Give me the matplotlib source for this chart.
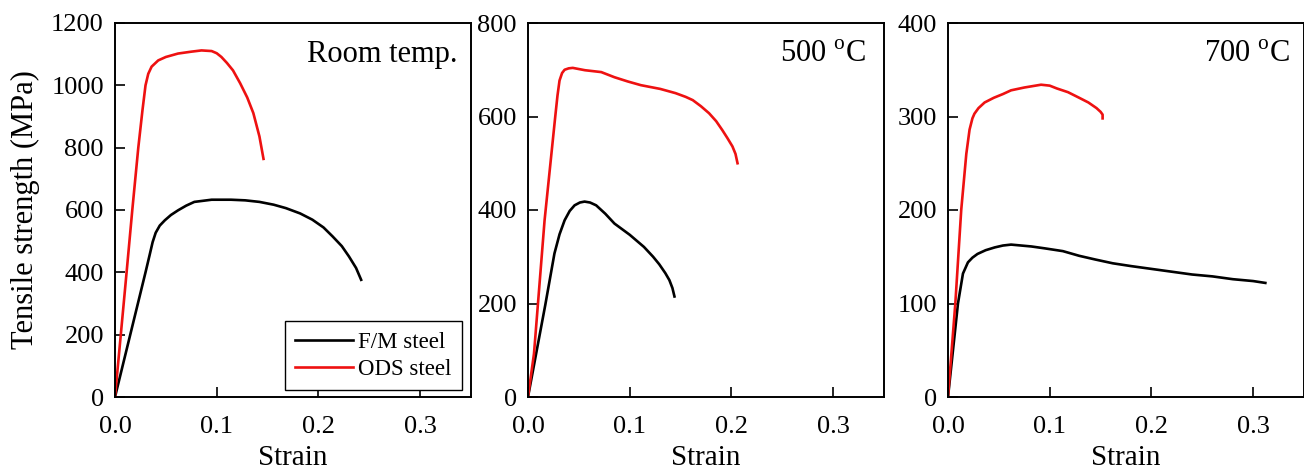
import matplotlib
matplotlib.use("Agg")
import matplotlib.pyplot as plt

plt.rcParams["font.family"] = ["Liberation Serif", "DejaVu Serif"]
plt.rcParams["mathtext.fontset"] = "custom"
plt.rcParams["mathtext.rm"] = "Liberation Serif"

# Room temperature
rt_fm_strain = [0.0, 0.030, 0.034, 0.037, 0.040, 0.044, 0.049, 0.055, 0.062, 0.070, 0.078,
                0.095, 0.114, 0.128, 0.142, 0.156, 0.168, 0.182, 0.194, 0.205, 0.214, 0.223,
                0.230, 0.237, 0.242]
rt_fm_stress = [0, 400, 455, 497, 527, 550, 567, 584, 599, 614, 626,
                633, 633, 631, 626, 617, 606, 589, 569, 544, 515, 484,
                451, 414, 376]
rt_ods_strain = [0.0, 0.0114, 0.017, 0.0229, 0.027, 0.030, 0.0327, 0.036, 0.0425, 0.050, 0.062,
                 0.075, 0.085, 0.095, 0.100, 0.1046, 0.110, 0.116, 0.123, 0.130, 0.136, 0.142,
                 0.146]
rt_ods_stress = [0, 400, 600, 800, 920, 1000, 1037, 1060, 1080, 1091, 1102,
                 1108, 1112, 1110, 1103, 1091, 1072, 1048, 1007, 961, 911, 836,
                 764]

# 500 oC
t500_fm_strain = [0.0, 0.017, 0.026, 0.031, 0.036, 0.041, 0.0458, 0.051, 0.0556, 0.061,
                  0.067, 0.076, 0.085, 0.100, 0.114, 0.123, 0.129, 0.135, 0.139, 0.142, 0.144]
t500_fm_stress = [0, 197, 307, 348, 378, 398, 410, 416, 418, 416,
                  410, 392, 371, 347, 321, 300, 284, 265, 250, 233, 215]
t500_ods_strain = [0.0, 0.0059, 0.0163, 0.0268, 0.029, 0.031, 0.0335, 0.036, 0.040, 0.044, 0.056,
                   0.072, 0.085, 0.098, 0.111, 0.130, 0.145, 0.155, 0.162, 0.170, 0.178,
                   0.185, 0.191, 0.196, 0.201, 0.204, 0.206]
t500_ods_stress = [0, 93, 378, 600, 645, 677, 693, 700, 703, 704, 699,
                   695, 684, 675, 667, 659, 650, 642, 635, 622, 607,
                   590, 571, 554, 536, 520, 500]

# 700 oC
t700_fm_strain = [0.0, 0.0098, 0.0147, 0.0196, 0.024, 0.029, 0.037, 0.046, 0.054, 0.062,
                  0.072, 0.082, 0.095, 0.113, 0.129, 0.145, 0.162, 0.180, 0.200, 0.220, 0.240,
                  0.260, 0.280, 0.300, 0.312]
t700_fm_stress = [0, 100, 132, 144, 149, 153, 157, 160, 162, 163,
                  162, 161, 159, 156, 151, 147, 143, 140, 137, 134, 131,
                  129, 126, 124, 122]
t700_ods_strain = [0.0, 0.0072, 0.013, 0.018, 0.0212, 0.024, 0.026, 0.030, 0.036, 0.045, 0.054,
                   0.062, 0.075, 0.0915, 0.100, 0.107, 0.118, 0.129, 0.138, 0.146, 0.150,
                   0.152, 0.152]
t700_ods_stress = [0, 100, 200, 260, 286, 298, 303, 309, 315, 320, 324,
                   328, 331, 334, 333, 330, 326, 320, 315, 309, 305,
                   302, 298]

panels = [
    ("Room temp.", rt_fm_strain, rt_fm_stress, rt_ods_strain, rt_ods_stress, 1200, 200),
    ("500 $^{\\mathrm{o}}$C", t500_fm_strain, t500_fm_stress, t500_ods_strain, t500_ods_stress, 800, 200),
    ("700 $^{\\mathrm{o}}$C", t700_fm_strain, t700_fm_stress, t700_ods_strain, t700_ods_stress, 400, 100),
]
lefts_px = [115, 528, 948]
label_x = [0.963, 0.949, 0.96]

W, H = 1304, 470
fig = plt.figure(figsize=(W / 100, H / 100), dpi=100)

for i, (title, fx, fy, ox, oy, ymax, ystep) in enumerate(panels):
    ax = fig.add_axes([lefts_px[i] / W, 73 / H, 356 / W, 374 / H])
    ax.plot(fx, fy, color="black", lw=1.9, label="F/M steel")
    ax.plot(ox, oy, color="#ee1111", lw=1.9, label="ODS steel")
    ax.set_xlim(0, 0.35)
    ax.set_ylim(0, ymax)
    ax.set_xticks([0.0, 0.1, 0.2, 0.3])
    ax.set_xticklabels(["0.0", "0.1", "0.2", "0.3"])
    ax.set_yticks(range(0, ymax + 1, ystep))
    ax.tick_params(direction="in", length=7, width=1.2, labelsize=19,
                   top=False, right=False)
    ax.tick_params(axis="x", pad=14)
    ax.tick_params(axis="y", pad=8)
    for sp in ax.spines.values():
        sp.set_linewidth(1.4)
    ax.set_xlabel("Strain", fontsize=21, labelpad=5)
    ax.text(label_x[i], 0.896, title, transform=ax.transAxes, ha="right",
            va="baseline", fontsize=22)
    if i == 0:
        ax.set_ylabel("Tensile strength (MPa)", fontsize=22, labelpad=8)
        leg = ax.legend(loc="lower right", fontsize=16.5, handlelength=2.5,
                        fancybox=False, edgecolor="black", framealpha=1,
                        borderpad=0.45, handletextpad=0.25, labelspacing=0.25,
                        borderaxespad=0, bbox_to_anchor=(0.975, 0.019))
        leg.get_frame().set_linewidth(1.0)

fig.savefig("out.png", dpi=100)
